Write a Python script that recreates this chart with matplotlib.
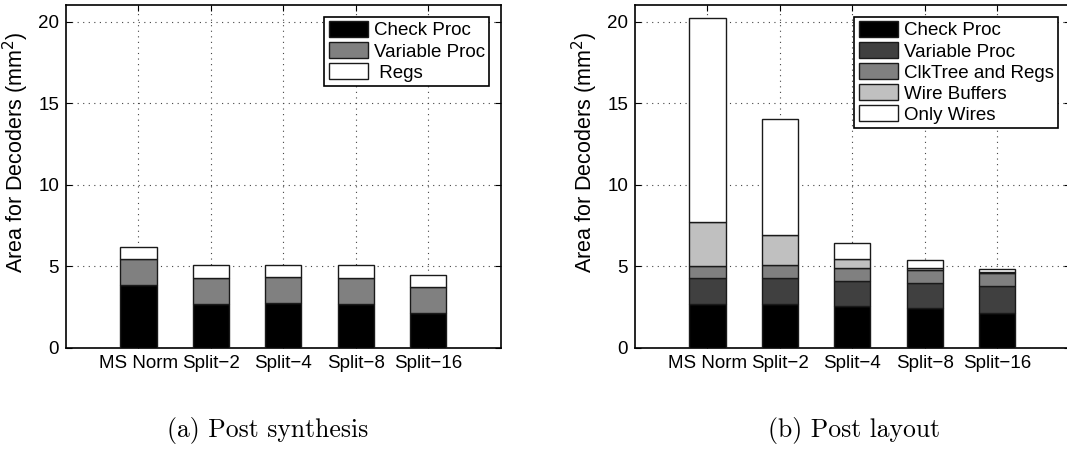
import matplotlib
matplotlib.use("Agg")
import matplotlib.pyplot as plt
import numpy as np

categories = ["MS Norm", "Split\u22122", "Split\u22124", "Split\u22128", "Split\u221216"]

# (a) Post synthesis: stacked components (mm^2)
syn_labels = ["Check Proc", "Variable Proc", " Regs"]
syn_check = [3.82, 2.68, 2.72, 2.68, 2.11]
syn_var = [1.60, 1.61, 1.61, 1.61, 1.59]
syn_regs = [0.75, 0.76, 0.76, 0.76, 0.75]
syn_colors = ["#000000", "#808080", "#ffffff"]

# (b) Post layout: stacked components (mm^2)
lay_labels = ["Check Proc", "Variable Proc", "ClkTree and Regs", "Wire Buffers", "Only Wires"]
lay_check = [2.68, 2.68, 2.54, 2.41, 2.13]
lay_var = [1.57, 1.57, 1.55, 1.53, 1.65]
lay_clk = [0.78, 0.80, 0.79, 0.82, 0.78]
lay_wbuf = [2.65, 1.86, 0.54, 0.14, 0.08]
lay_wires = [12.56, 7.12, 1.02, 0.47, 0.20]
lay_colors = ["#000000", "#404040", "#808080", "#c0c0c0", "#ffffff"]

plt.rcParams["font.family"] = ["Liberation Sans", "DejaVu Sans"]
plt.rcParams["font.size"] = 13.5

fig = plt.figure(figsize=(10.67, 4.61), dpi=100)

W = 434.7 / 1067
H = 342.4 / 461
B = (461 - 347.7) / 461
ax1 = fig.add_axes([66 / 1067, B, W, H])
ax2 = fig.add_axes([635 / 1067, B, W, H])


def stacked(ax, series, labels, colors):
    x = np.arange(1, len(categories) + 1)
    bottom = np.zeros(len(categories))
    handles = []
    for vals, lab, col in zip(series, labels, colors):
        vals = np.asarray(vals, dtype=float)
        h = ax.bar(x, vals, width=0.5, bottom=bottom, color=col,
                   edgecolor="#1a1a1a", linewidth=1.0, label=lab, zorder=3)
        handles.append(h)
        bottom = bottom + vals
    ax.set_xlim(0, 6)
    ax.set_ylim(0, 21)
    ax.set_xticks(x)
    ax.set_xticklabels(categories)
    ax.set_yticks([0, 5, 10, 15, 20])
    ax.grid(True, linestyle=(0, (1, 4)), color="#444444", linewidth=0.8, zorder=0)
    ax.tick_params(direction="in", length=4, width=0.8, top=True, right=True,
                   labelsize=13.5, pad=5)
    for s in ax.spines.values():
        s.set_linewidth(1.2)
    ax.set_ylabel("Area for Decoders (mm$^2$)", fontsize=15.5)
    ax.yaxis.set_label_coords(-0.08, 0.57)
    leg = ax.legend(handles, labels, loc="upper right", fancybox=False,
                    framealpha=1, edgecolor="black", labelspacing=0.15,
                    handlelength=2.1, handleheight=0.9, handletextpad=0.3,
                    borderpad=0.25, borderaxespad=0.6, fontsize=13.5)
    leg.get_frame().set_linewidth(1.2)
    leg.set_zorder(5)
    return ax


stacked(ax1, [syn_check, syn_var, syn_regs], syn_labels, syn_colors)
stacked(ax2, [lay_check, lay_var, lay_clk, lay_wbuf, lay_wires], lay_labels, lay_colors)

fig.text(268 / 1067, 1 - 430 / 461, "(a) Post synthesis", family="cmr10",
         fontsize=18.5, ha="center", va="center")
fig.text(854 / 1067, 1 - 430 / 461, "(b) Post layout", family="cmr10",
         fontsize=18.5, ha="center", va="center")

fig.savefig("out.png", dpi=100)
